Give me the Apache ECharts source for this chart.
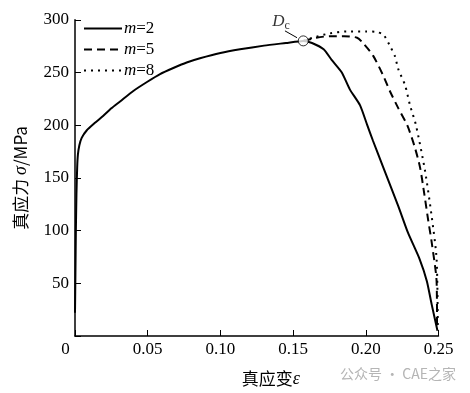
<!DOCTYPE html>
<html><head><meta charset="utf-8">
<script src="https://cdn.jsdelivr.net/npm/echarts@6/dist/echarts.min.js"></script>
<style>html,body{margin:0;padding:0;background:#fff}#c{width:470px;height:393px}</style>
</head><body><div id="c"></div>
<script>
// Common hardening curve (up to damage onset Dc)
const epsCommon = [0, 0.0003, 0.0006, 0.001, 0.0015, 0.002, 0.003, 0.0046, 0.008, 0.0135, 0.0195, 0.025, 0.031, 0.0401, 0.0495, 0.0585, 0.068, 0.0768, 0.086, 0.1, 0.1135, 0.13, 0.145, 0.157];
const sigCommon = [22, 60, 100, 135, 160, 172, 181, 188, 195, 202, 209, 216, 222.5, 232.5, 241, 248.5, 254.5, 259.5, 263.5, 268.5, 272, 275.5, 278, 280];
// Post-Dc branches
const epsM2 = [0.157, 0.163, 0.171, 0.1765, 0.1835, 0.189, 0.196, 0.201, 0.205, 0.212, 0.2224, 0.229, 0.237, 0.242, 0.2453, 0.2493];
const sigM2 = [280, 278, 272, 262, 250, 234, 219, 200, 185, 160, 123, 98, 73, 52, 30, 5];
const epsM5 = [0.157, 0.166, 0.1754, 0.185, 0.194, 0.198, 0.205, 0.212, 0.2167, 0.2224, 0.2285, 0.2335, 0.2373, 0.2402, 0.243, 0.2453, 0.2487, 0.249];
const sigM5 = [280, 283, 284.5, 284.5, 283, 278, 266, 247, 232, 216, 200, 180, 160, 135, 109, 89, 51.5, 8];
const epsM8 = [0.157, 0.166, 0.175, 0.187, 0.2006, 0.207, 0.212, 0.2167, 0.22, 0.2224, 0.227, 0.2304, 0.2345, 0.2407, 0.2453, 0.2487, 0.2495];
const sigM8 = [280, 284, 287, 289, 289, 288.5, 286, 275, 265.6, 253, 238, 219, 200, 157, 113.6, 73, 10];
const dcPoint = [0.157, 280];
const leader = [[0.1444, 289.5], [0.1527, 283]];
const seriesNames = ['m=2', 'm=5', 'm=8'];

const zip = (a, b) => a.map((v, i) => [v, b[i]]);
const serif = 'Liberation Serif';
const cjk = 'Noto Sans CJK SC';

const chart = echarts.init(document.getElementById('c'), null, {renderer: 'canvas'});
chart.setOption({
  animation: false,
  backgroundColor: '#fff',
  textStyle: {fontFamily: serif, color: '#000'},
  grid: {left: 75, right: 31.5, top: 19.8, bottom: 51},
  legend: {
    orient: 'vertical', left: 78, top: 15, itemWidth: 38, itemHeight: 14, itemGap: 4,
    data: seriesNames,
    itemStyle: {opacity: 0},
    formatter: n => '{i|m}{n|=' + n.split('=')[1] + '}',
    textStyle: {
      color: '#000', fontFamily: serif, padding: [0, 0, 0, -3],
      rich: {
        i: {fontFamily: serif, fontStyle: 'italic', fontSize: 17, color: '#000'},
        n: {fontFamily: serif, fontSize: 17, color: '#000'}
      }
    }
  },
  xAxis: {
    type: 'value', min: 0, max: 0.25, interval: 0.05,
    name: '真应变{e|ε}', nameLocation: 'middle', nameGap: 34,
    nameTextStyle: {fontFamily: cjk, fontSize: 17, color: '#000', padding: [0, 0, 0, 28],
      rich: {e: {fontFamily: serif, fontStyle: 'italic', fontSize: 18, color: '#000'}}},
    axisLine: {lineStyle: {color: '#000', width: 1.5}},
    axisTick: {inside: true, length: 6, lineStyle: {color: '#000', width: 1}},
    splitLine: {show: false},
    axisLabel: {
      margin: 5, color: '#000', fontFamily: serif, fontSize: 17,
      formatter: v => v === 0 ? '{z|0}' : '{t|' + v.toFixed(2) + '}',
      rich: {
        z: {fontFamily: serif, fontSize: 17, color: '#000', padding: [0, 19, 0, 0]},
        t: {fontFamily: serif, fontSize: 17, color: '#000'}
      }
    }
  },
  yAxis: {
    type: 'value', min: 0, max: 300, interval: 50,
    name: '真应力 {s|σ}/MPa', nameLocation: 'middle', nameGap: 45, nameRotate: 90,
    nameTextStyle: {fontFamily: cjk, fontSize: 17, color: '#000',
      rich: {s: {fontFamily: serif, fontStyle: 'italic', fontSize: 18, color: '#000'}}},
    axisLine: {show: true, lineStyle: {color: '#000', width: 1.5}},
    axisTick: {show: true, inside: true, length: 6, lineStyle: {color: '#000', width: 1}},
    splitLine: {show: false},
    axisLabel: {margin: 6, color: '#000', fontFamily: serif, fontSize: 17,
      formatter: v => v === 0 ? '' : '{t|' + v + '}',
      rich: {t: {fontFamily: serif, fontSize: 17, color: '#000'}}}
  },
  series: [
    {name: 'm=8', type: 'line', symbol: 'none', smooth: 0.25, data: zip(epsM8, sigM8), z: 2,
      lineStyle: {color: '#000', width: 2, type: [2, 5]}, itemStyle: {color: '#000'}},
    {name: 'm=5', type: 'line', symbol: 'none', smooth: 0.25, data: zip(epsM5, sigM5), z: 3,
      lineStyle: {color: '#000', width: 2, type: [8, 5]}, itemStyle: {color: '#000'}},
    {name: 'm=2', type: 'line', symbol: 'none', smooth: 0.2, data: zip(epsCommon, sigCommon).concat(zip(epsM2, sigM2).slice(1)), z: 4,
      lineStyle: {color: '#000', width: 2}, itemStyle: {color: '#000'}},
    {name: 'leader', type: 'line', symbol: 'none', data: leader, silent: true, z: 5,
      lineStyle: {color: '#000', width: 1}},
    {name: 'Dc', type: 'scatter', data: [dcPoint], symbol: 'circle', symbolSize: 10, z: 6,
      itemStyle: {color: '#fff', borderColor: '#000', borderWidth: 1},
      label: {show: true, position: 'left', offset: [-3, -19], formatter: '{d|D}{c|c}',
        rich: {d: {fontFamily: serif, fontStyle: 'italic', fontSize: 17, color: '#000'},
               c: {fontFamily: serif, fontSize: 12, color: '#000', padding: [8, 0, 0, 0]}}}}
  ],
  graphic: [
    {type: 'text', right: 14, bottom: 12, silent: true,
      style: {text: '公众号 · CAE之家', fontFamily: cjk, fontSize: 14, fill: '#b5b5b5'}}
  ]
});
</script></body></html>
